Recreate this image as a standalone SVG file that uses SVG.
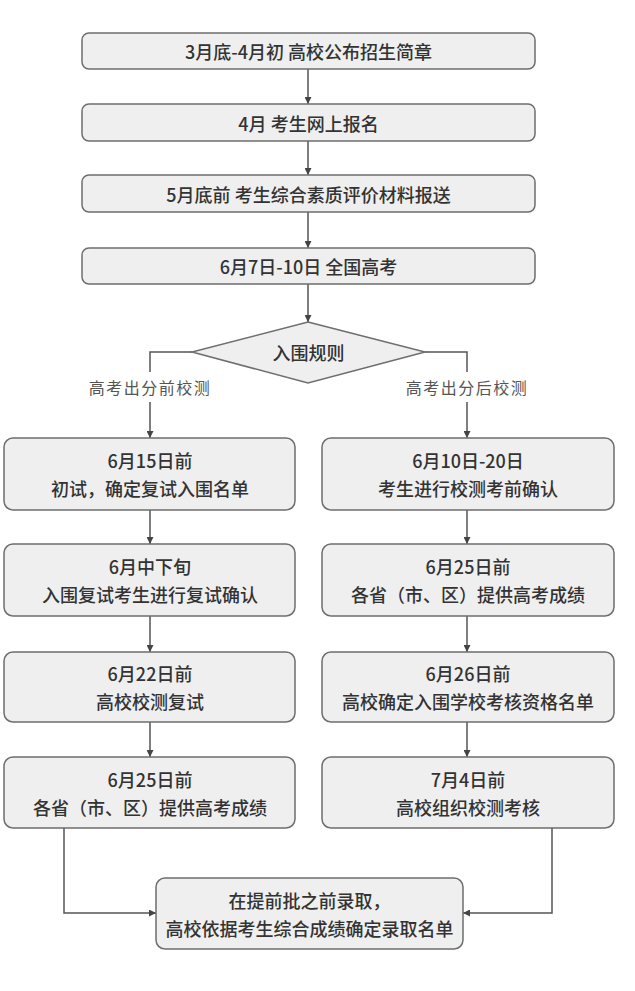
<svg xmlns="http://www.w3.org/2000/svg" width="635" height="991" viewBox="0 0 635 991">
<defs>
<style>
.box{fill:#efefef;stroke:#6e6e6e;stroke-width:1.5}
.t{font-family:"Noto Sans CJK SC","Noto Sans",sans-serif;font-size:18px;font-weight:500;fill:#333;text-anchor:middle;dominant-baseline:central}
.lbl{font-family:"Noto Sans CJK SC","Noto Sans",sans-serif;font-size:16px;font-weight:normal;fill:#555;text-anchor:middle;dominant-baseline:central;letter-spacing:1.5px}
.c{fill:none;stroke:#555;stroke-width:1.5}
</style>
<marker id="arr" viewBox="0 0 8 8" refX="8" refY="4" markerWidth="7" markerHeight="7" markerUnits="userSpaceOnUse" orient="auto">
<path d="M0,0 L8,4 L0,8 z" fill="#444"/>
</marker>
</defs>
<rect width="635" height="991" fill="#fff"/>
<g id="connectors">
<path class="c" d="M308,69 V104" marker-end="url(#arr)"/>
<path class="c" d="M308,141 V175" marker-end="url(#arr)"/>
<path class="c" d="M308,212 V248" marker-end="url(#arr)"/>
<path class="c" d="M308,284 V322" marker-end="url(#arr)"/>
<path class="c" d="M192,352 H150 V372"/>
<path class="c" d="M150,402 V438" marker-end="url(#arr)"/>
<path class="c" d="M425,352 H467 V372"/>
<path class="c" d="M467,402 V438" marker-end="url(#arr)"/>
<path class="c" d="M150,510 V544" marker-end="url(#arr)"/>
<path class="c" d="M150,616 V652" marker-end="url(#arr)"/>
<path class="c" d="M150,722 V757" marker-end="url(#arr)"/>
<path class="c" d="M467,510 V544" marker-end="url(#arr)"/>
<path class="c" d="M467,616 V652" marker-end="url(#arr)"/>
<path class="c" d="M467,722 V757" marker-end="url(#arr)"/>
<path class="c" d="M64,828 V913 H156" marker-end="url(#arr)"/>
<path class="c" d="M552,828 V913 H463" marker-end="url(#arr)"/>
<text class="lbl" x="150" y="387">高考出分前校测</text>
<text class="lbl" x="467" y="387">高考出分后校测</text>
</g>
<g id="n1"><rect class="box" x="82" y="33" width="453" height="36" rx="7"/><text class="t" x="308.5" y="51">3月底-4月初 高校公布招生简章</text></g>
<g id="n2"><rect class="box" x="82" y="104" width="453" height="37" rx="7"/><text class="t" x="308.5" y="122.5">4月 考生网上报名</text></g>
<g id="n3"><rect class="box" x="82" y="175" width="453" height="37" rx="7"/><text class="t" x="308.5" y="193.5">5月底前 考生综合素质评价材料报送</text></g>
<g id="n4"><rect class="box" x="82" y="248" width="453" height="36" rx="7"/><text class="t" x="308.5" y="266">6月7日-10日 全国高考</text></g>
<g id="d1"><polygon class="box" points="308,322 425,352 308,383 192,352"/><text class="t" x="308.5" y="352">入围规则</text></g>
<g id="l1"><rect class="box" x="4" y="438" width="291" height="72" rx="9"/><text class="t" x="150" y="460">6月15日前</text><text class="t" x="150" y="488">初试，确定复试入围名单</text></g>
<g id="l2"><rect class="box" x="4" y="544" width="291" height="72" rx="9"/><text class="t" x="150" y="566">6月中下旬</text><text class="t" x="150" y="594">入围复试考生进行复试确认</text></g>
<g id="l3"><rect class="box" x="4" y="652" width="291" height="70" rx="9"/><text class="t" x="150" y="673">6月22日前</text><text class="t" x="150" y="701">高校校测复试</text></g>
<g id="l4"><rect class="box" x="4" y="757" width="291" height="71" rx="9"/><text class="t" x="150" y="778.5">6月25日前</text><text class="t" x="150" y="806.5">各省（市、区）提供高考成绩</text></g>
<g id="r1"><rect class="box" x="322" y="438" width="292" height="72" rx="9"/><text class="t" x="468" y="460">6月10日-20日</text><text class="t" x="468" y="488">考生进行校测考前确认</text></g>
<g id="r2"><rect class="box" x="322" y="544" width="292" height="72" rx="9"/><text class="t" x="468" y="566">6月25日前</text><text class="t" x="468" y="594">各省（市、区）提供高考成绩</text></g>
<g id="r3"><rect class="box" x="322" y="652" width="292" height="70" rx="9"/><text class="t" x="468" y="673">6月26日前</text><text class="t" x="468" y="701">高校确定入围学校考核资格名单</text></g>
<g id="r4"><rect class="box" x="322" y="757" width="292" height="71" rx="9"/><text class="t" x="468" y="778.5">7月4日前</text><text class="t" x="468" y="806.5">高校组织校测考核</text></g>
<g id="b1"><rect class="box" x="156" y="878" width="307" height="71" rx="9"/><text class="t" x="309.5" y="899.5">在提前批之前录取，</text><text class="t" x="309.5" y="927.5">高校依据考生综合成绩确定录取名单</text></g>
</svg>
